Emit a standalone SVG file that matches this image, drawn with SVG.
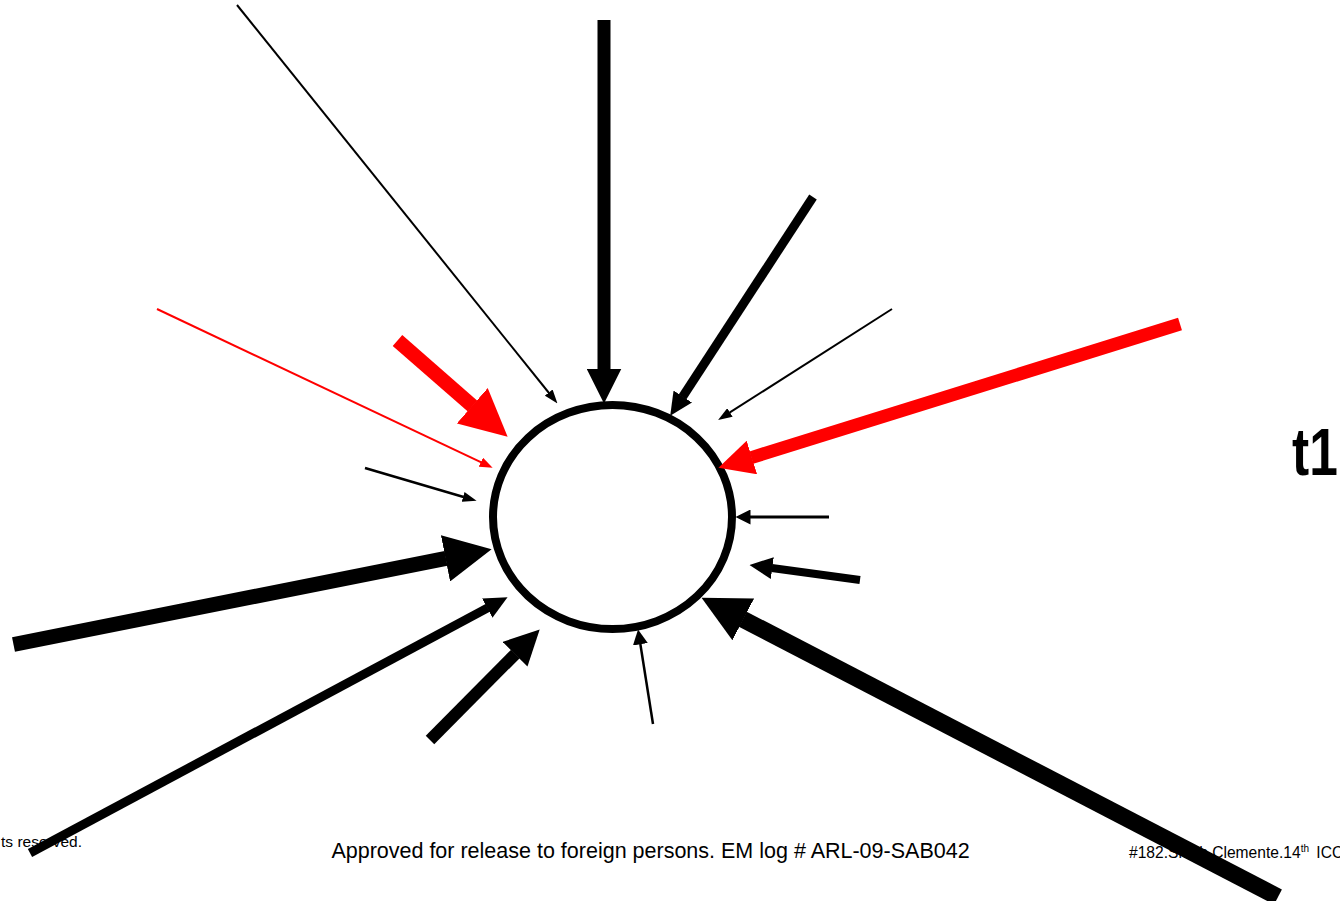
<svg xmlns="http://www.w3.org/2000/svg" width="1340" height="901" viewBox="0 0 1340 901">
<style>
.k{stroke:#000;fill:none;stroke-linecap:butt}
.r{stroke:#f00;fill:none;stroke-linecap:butt}
.t{font-family:"Liberation Sans",Arial,sans-serif;fill:#000}
</style>
<defs>
<marker id="hThin" markerUnits="userSpaceOnUse" markerWidth="14" markerHeight="10" viewBox="0 0 14 10" refX="0.5" refY="5" orient="auto"><path d="M0,0 L14,5 L0,10 Z" fill="#000"/></marker>
<marker id="hThinR" markerUnits="userSpaceOnUse" markerWidth="13" markerHeight="10" viewBox="0 0 13 10" refX="0.5" refY="5" orient="auto"><path d="M0,0 L13,5 L0,10 Z" fill="#f00"/></marker>
<marker id="hThinW" markerUnits="userSpaceOnUse" markerWidth="15" markerHeight="15" viewBox="0 0 15 15" refX="0.5" refY="7.5" orient="auto"><path d="M0,0 L15,7.5 L0,15 Z" fill="#000"/></marker>
<marker id="hMed" markerUnits="userSpaceOnUse" markerWidth="23" markerHeight="22" viewBox="0 0 23 22" refX="0.5" refY="11" orient="auto"><path d="M0,0 L23,11 L0,22 Z" fill="#000"/></marker>
<marker id="hBig" markerUnits="userSpaceOnUse" markerWidth="35" markerHeight="35" viewBox="0 0 35 35" refX="0.5" refY="17.5" orient="auto"><path d="M0,0 L35,17.5 L0,35 Z" fill="#000"/></marker>
<marker id="hBigR" markerUnits="userSpaceOnUse" markerWidth="35" markerHeight="35" viewBox="0 0 35 35" refX="0.5" refY="17.5" orient="auto"><path d="M0,0 L35,17.5 L0,35 Z" fill="#f00"/></marker>
<marker id="hHuge" markerUnits="userSpaceOnUse" markerWidth="47" markerHeight="47" viewBox="0 0 47 47" refX="0.5" refY="23.5" orient="auto"><path d="M0,0 L47,23.5 L0,47 Z" fill="#000"/></marker>
<marker id="hHugeR" markerUnits="userSpaceOnUse" markerWidth="47" markerHeight="47" viewBox="0 0 47 47" refX="0.5" refY="23.5" orient="auto"><path d="M0,0 L47,23.5 L0,47 Z" fill="#f00"/></marker>
</defs>

<g id="footer-left"><text class="t" x="82" y="847" font-size="15.5" text-anchor="end">ts reserved.</text></g>
<g id="footer-center"><text class="t" x="650.5" y="858" font-size="21.5" text-anchor="middle">Approved for release to foreign persons. EM log # ARL-09-SAB042</text></g>
<g id="footer-right"><text class="t" x="1129" y="858" font-size="15.6">#182.Smith.Clemente.14<tspan font-size="10" dy="-6">th</tspan><tspan dy="6" dx="3"> ICC</tspan></text></g>
<g id="label-t1"><text class="t" font-weight="bold" font-size="66" transform="translate(1292,475) scale(0.78,1)">t1</text></g>

<g id="node-center"><ellipse cx="612.5" cy="517" rx="119.5" ry="112" fill="none" stroke="#000" stroke-width="8"/></g>

<g id="connectors">
<line class="k" x1="237" y1="5" x2="549" y2="393" stroke-width="2" marker-end="url(#hThin)"/>
<line class="k" x1="604" y1="20" x2="604" y2="369" stroke-width="13" marker-end="url(#hBig)"/>
<line class="k" x1="813" y1="197" x2="682.5" y2="397" stroke-width="9" marker-end="url(#hMed)"/>
<line class="k" x1="892" y1="309" x2="729.5" y2="412.7" stroke-width="2" marker-end="url(#hThin)"/>
<line class="r" x1="1180" y1="324" x2="751.4" y2="457.6" stroke-width="13" marker-end="url(#hBigR)"/>
<line class="r" x1="157" y1="309" x2="481.3" y2="462.4" stroke-width="2" marker-end="url(#hThinR)"/>
<line class="r" x1="397.5" y1="340.5" x2="472.6" y2="406.1" stroke-width="14.5" marker-end="url(#hHugeR)"/>
<line class="k" x1="365" y1="468" x2="463.6" y2="497" stroke-width="2.5" marker-end="url(#hThin)"/>
<line class="k" x1="13.5" y1="644.5" x2="446" y2="558.3" stroke-width="15" marker-end="url(#hHuge)"/>
<line class="k" x1="30" y1="853" x2="487.7" y2="607.9" stroke-width="9" marker-end="url(#hMed)"/>
<line class="k" x1="430" y1="740" x2="515.4" y2="653.9" stroke-width="12" marker-end="url(#hBig)"/>
<line class="k" x1="653" y1="724" x2="640.3" y2="643.8" stroke-width="2.5" marker-end="url(#hThinW)"/>
<line class="k" x1="829" y1="517" x2="750" y2="517" stroke-width="3" marker-end="url(#hThinW)"/>
<line class="k" x1="860" y1="580" x2="771.8" y2="568" stroke-width="8" marker-end="url(#hMed)"/>
<line class="k" x1="1278" y1="897" x2="742.8" y2="619.2" stroke-width="17" marker-end="url(#hHuge)"/>
</g>
</svg>
